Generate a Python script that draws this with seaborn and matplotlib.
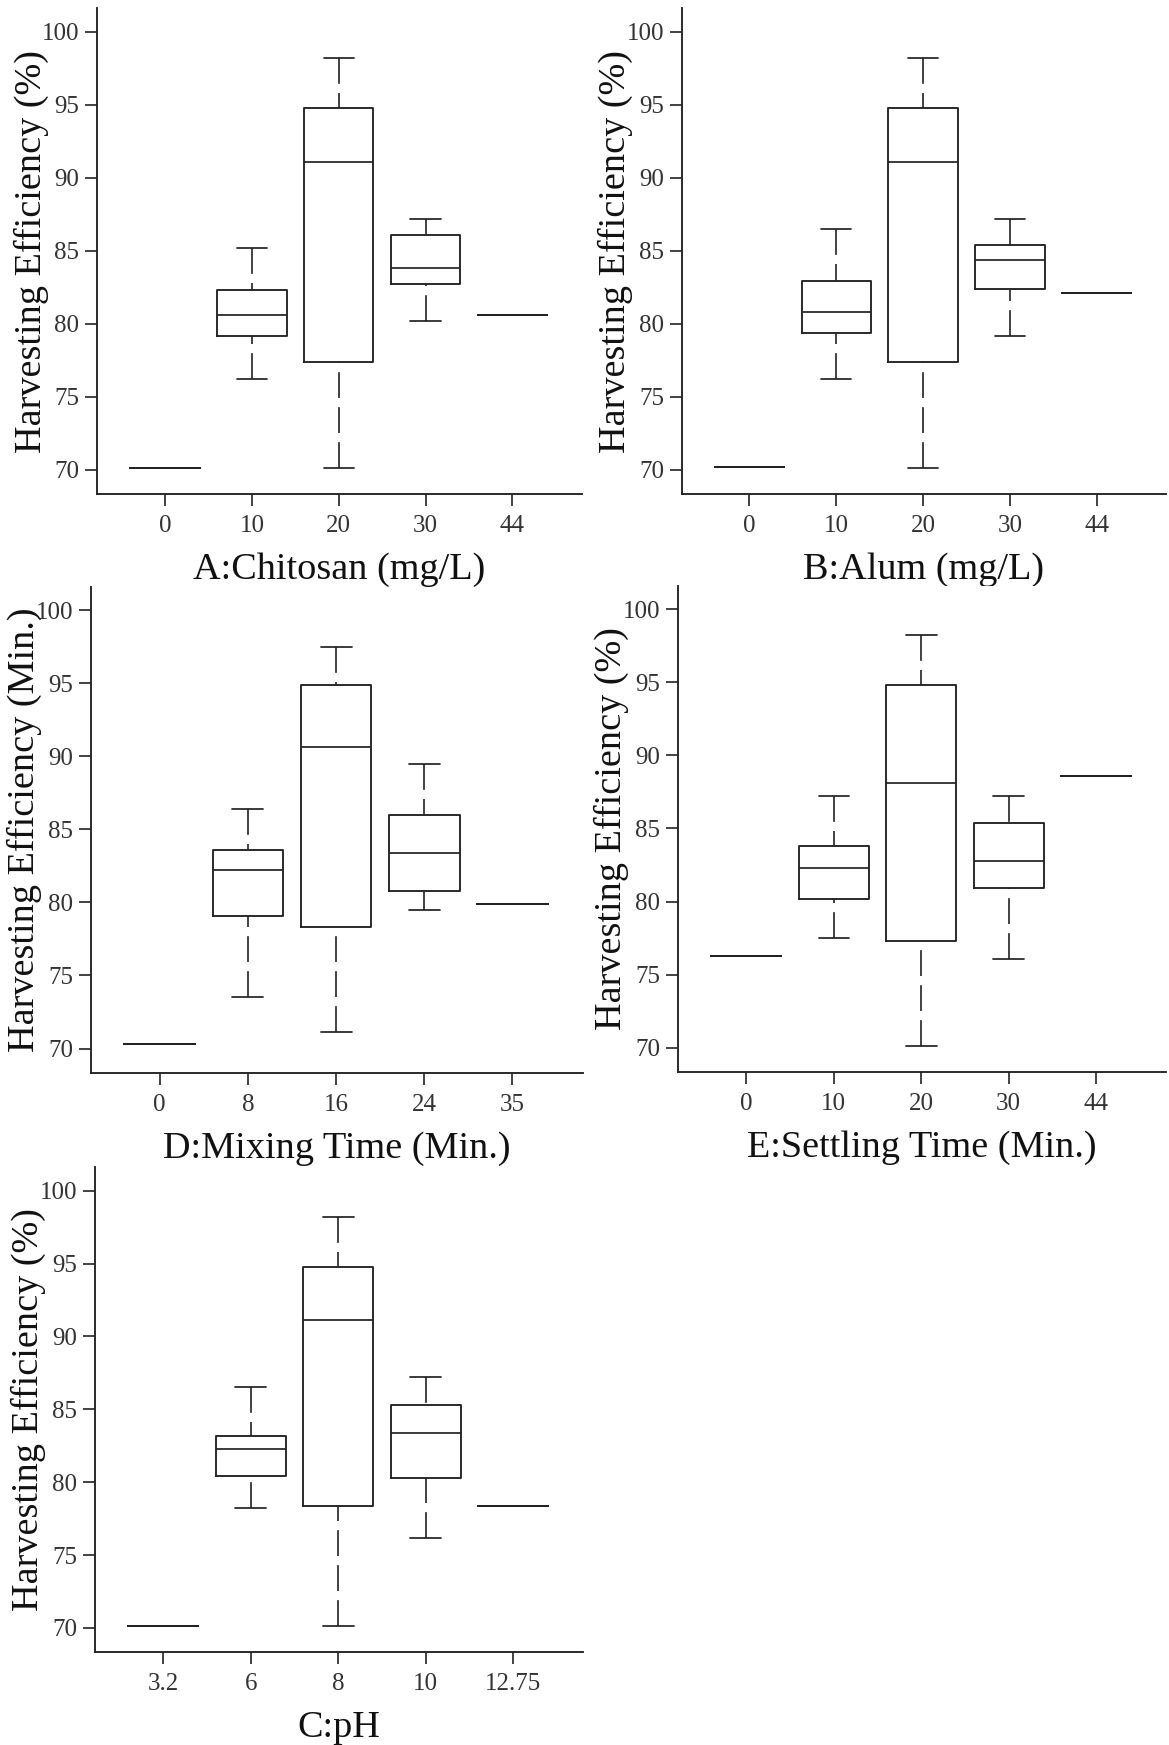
import numpy as np
import pandas as pd
import matplotlib
matplotlib.use("Agg")
import matplotlib.pyplot as plt
import seaborn as sns

# ---- data: per level, box statistics [whisker low, Q1, median, Q3, whisker high]
#      (a single value where the level has one observation)
chitosan_levels = ["0", "10", "20", "30", "44"]
chitosan_values = [[70.1], [76.2, 79.2, 80.6, 82.3, 85.2], [70.1, 77.4, 91.1, 94.8, 98.2],
                   [80.2, 82.7, 83.8, 86.1, 87.2], [80.6]]

alum_levels = ["0", "10", "20", "30", "44"]
alum_values = [[70.2], [76.2, 79.4, 80.8, 82.9, 86.5], [70.1, 77.4, 91.1, 94.8, 98.2],
               [79.2, 82.4, 84.4, 85.4, 87.2], [82.1]]

mixing_levels = ["0", "8", "16", "24", "35"]
mixing_values = [[70.3], [73.5, 79.1, 82.2, 83.6, 86.4], [71.1, 78.3, 90.6, 94.9, 97.5],
                 [79.5, 80.8, 83.4, 86.0, 89.5], [79.9]]

settling_levels = ["0", "10", "20", "30", "44"]
settling_values = [[76.3], [77.5, 80.2, 82.3, 83.8, 87.2], [70.1, 77.3, 88.1, 94.8, 98.2],
                   [76.1, 80.9, 82.8, 85.4, 87.2], [88.6]]

ph_levels = ["3.2", "6", "8", "10", "12.75"]
ph_values = [[70.1], [78.2, 80.4, 82.3, 83.2, 86.5], [70.1, 78.4, 91.1, 94.8, 98.2],
             [76.2, 80.3, 83.4, 85.3, 87.2], [78.4]]

y_ticks = [70, 75, 80, 85, 90, 95, 100]

panels = [
    # rect, levels, values, xlabel, ylabel
    ([0.0832, 0.7169, 0.4146, 0.2783], chitosan_levels, chitosan_values,
     "A:Chitosan (mg/L)", "Harvesting Efficiency (%)"),
    ([0.5832, 0.7169, 0.4143, 0.2783], alum_levels, alum_values,
     "B:Alum (mg/L)", "Harvesting Efficiency (%)"),
    ([0.0778, 0.3853, 0.4209, 0.2785], mixing_levels, mixing_values,
     "D:Mixing Time (Min.)", "Harvesting Efficiency (Min.)"),
    ([0.5802, 0.3857, 0.4172, 0.2787], settling_levels, settling_values,
     "E:Settling Time (Min.)", "Harvesting Efficiency (%)"),
    ([0.0813, 0.0533, 0.4175, 0.2777], ph_levels, ph_values,
     "C:pH", "Harvesting Efficiency (%)"),
]

sns.set_theme(style="ticks")
plt.rcParams["font.family"] = ["Liberation Serif", "DejaVu Serif"]

fig = plt.figure(figsize=(11.69, 17.45), dpi=100)

ink = "#222222"
for rect, levels, values, xlabel, ylabel in panels:
    ax = fig.add_axes(rect)
    rows = [(lvl, v) for lvl, vals in zip(levels, values) for v in vals]
    df = pd.DataFrame(rows, columns=["level", "eff"])
    sns.boxplot(data=df, x="level", y="eff", order=levels, ax=ax,
                whis=(0, 100), width=0.8, fill=False, color=ink,
                linewidth=1.35, saturation=1,
                whiskerprops=dict(linestyle=(0, (15.5, 5.5)), linewidth=1.2),
                capprops=dict(linewidth=1.25),
                medianprops=dict(linewidth=1.25, color=ink),
                capwidths=0.35)
    # dash pattern of the whiskers starts at the cap end, as in the reference
    for ln in ax.lines:
        if ln.get_linestyle() == "--":
            xd, yd = ln.get_data()
            ln.set_data(np.asarray(xd)[::-1], np.asarray(yd)[::-1])
    ax.set_xlim(-0.78, 4.8)
    ax.set_ylim(68.35, 101.6)
    ax.set_yticks(y_ticks)
    sns.despine(ax=ax)
    for s in ["left", "bottom"]:
        ax.spines[s].set_linewidth(1.35)
        ax.spines[s].set_color(ink)
    ax.tick_params(axis="both", direction="out", length=8.3, width=1.2,
                   color=ink, labelsize=18, labelcolor="#333333")
    ax.tick_params(axis="y", pad=4.5)
    ax.tick_params(axis="x", pad=7)
    ax.set_xlabel(xlabel, fontsize=27.5, color="#111111", labelpad=11)
    ax.set_ylabel(ylabel, fontsize=27.5, color="#111111")
    ax.yaxis.set_label_coords(-0.1, 0.5)
    ax.grid(False)

fig.savefig("out.png", dpi=100)
